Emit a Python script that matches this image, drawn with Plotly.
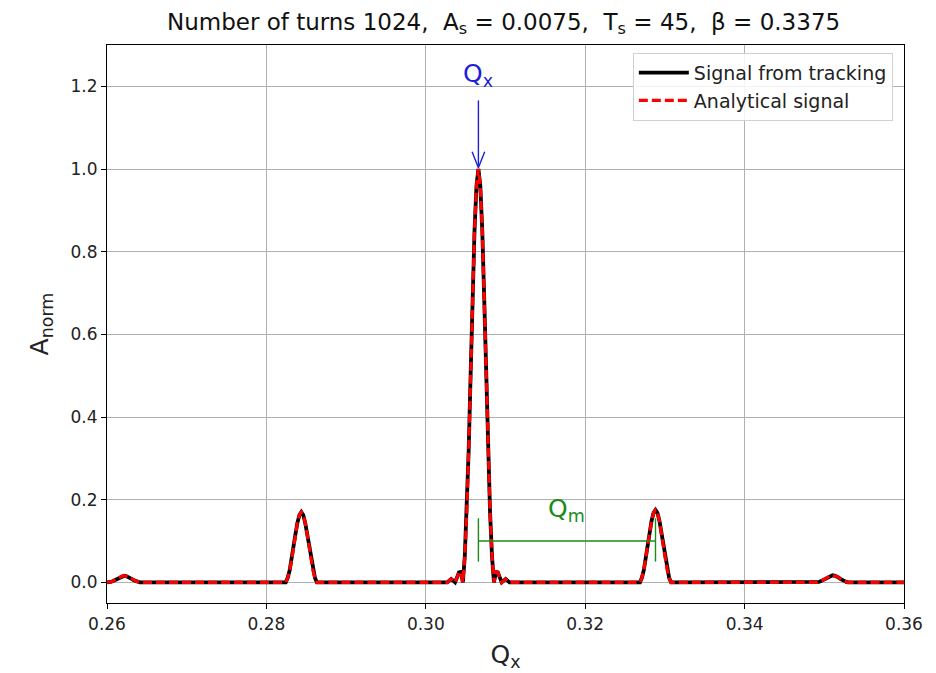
import plotly.graph_objects as go

# Spectrum sample points (tune Qx) and normalized amplitudes
q_x = [
    0.26000, 0.26021, 0.26045, 0.26070, 0.26094, 0.26118, 0.26143, 0.26167, 0.26192,
    0.26216, 0.26240, 0.26265, 0.26289, 0.26313, 0.26338, 0.26362, 0.26387, 0.26411,
    0.28243, 0.28267, 0.28292, 0.28316, 0.28340, 0.28365, 0.28389, 0.28414,
    0.28438, 0.28462, 0.28487, 0.28511, 0.28535, 0.28560, 0.28584, 0.28609, 0.28633,
    0.30270, 0.30294, 0.30318, 0.30343, 0.30367, 0.30392, 0.30416, 0.30440, 0.30465,
    0.30489, 0.30514, 0.30538, 0.30562, 0.30587, 0.30611, 0.30636,
    0.30660, 0.30684, 0.30709, 0.30733, 0.30758, 0.30782, 0.30806, 0.30831,
    0.30855, 0.30880, 0.30904, 0.30928, 0.30953, 0.30977, 0.31002, 0.31026, 0.31050,
    0.32687, 0.32711, 0.32736, 0.32760, 0.32784, 0.32809, 0.32833, 0.32858,
    0.32882, 0.32906, 0.32931, 0.32955, 0.32979, 0.33004, 0.33028, 0.33053, 0.33077,
    0.34909, 0.34933, 0.34958, 0.34982, 0.35006, 0.35031, 0.35055, 0.35080,
    0.35104, 0.35128, 0.35153, 0.35177, 0.35201, 0.35226, 0.35250, 0.35275, 0.35299,
    0.36000,
]

a_tracking = [
    0.000, 0.000, 0.001, 0.0027, 0.005, 0.008, 0.011, 0.0136, 0.0154,
    0.016, 0.0154, 0.0136, 0.011, 0.008, 0.005, 0.0027, 0.001, 0.000,
    0.000, 0.011, 0.029, 0.054, 0.085, 0.117, 0.144, 0.163,
    0.170, 0.163, 0.144, 0.117, 0.085, 0.054, 0.029, 0.011, 0.000,
    0.000, 0.004, 0.008, 0.004, 0.000, 0.012, 0.024, 0.025, 0.000,
    0.062, 0.170, 0.320, 0.500, 0.686, 0.849, 0.960,
    1.000, 0.960, 0.849, 0.686, 0.500, 0.320, 0.170, 0.062,
    0.000, 0.025, 0.024, 0.012, 0.000, 0.004, 0.008, 0.004, 0.000,
    0.000, 0.011, 0.030, 0.056, 0.0875, 0.120, 0.149, 0.168,
    0.175, 0.168, 0.149, 0.120, 0.0875, 0.056, 0.030, 0.011, 0.000,
    0.000, 0.001, 0.003, 0.0053, 0.0085, 0.0117, 0.0145, 0.0163,
    0.017, 0.0163, 0.0145, 0.0117, 0.0085, 0.0053, 0.003, 0.001, 0.000,
    0.000,
]

a_analytical = list(a_tracking)

# Annotation reference values
q_main = 0.3066
q_side = 0.32882
a_bracket = 0.10

x_ticks = [0.26, 0.28, 0.30, 0.32, 0.34, 0.36]
y_ticks = [0.0, 0.2, 0.4, 0.6, 0.8, 1.0, 1.2]

FONT = "DejaVu Sans"
GREEN = "#1a8c1a"
BLUE = "#1f1fd6"
TXT = "#222222"

fig = go.Figure()
fig.add_trace(go.Scatter(x=q_x, y=a_tracking, mode="lines", name="Signal from tracking",
                         line=dict(color="black", width=3.8)))
fig.add_trace(go.Scatter(x=q_x, y=a_analytical, mode="lines", name="Analytical signal",
                         line=dict(color="red", width=3.2, dash="9px,4px")))

shapes = [
    # Qx arrow
    dict(type="line", xref="x", yref="y", x0=q_main, x1=q_main, y0=1.166, y1=1.006,
         line=dict(color=BLUE, width=1.4)),
    dict(type="line", xref="x", yref="y", x0=q_main - 0.00079, x1=q_main, y0=1.042, y1=1.003,
         line=dict(color=BLUE, width=1.4)),
    dict(type="line", xref="x", yref="y", x0=q_main + 0.00079, x1=q_main, y0=1.042, y1=1.003,
         line=dict(color=BLUE, width=1.4)),
    # Qm bracket
    dict(type="line", xref="x", yref="y", x0=q_main, x1=q_side, y0=a_bracket, y1=a_bracket,
         line=dict(color=GREEN, width=1.4)),
    dict(type="line", xref="x", yref="y", x0=q_main, x1=q_main, y0=0.05, y1=0.155,
         line=dict(color=GREEN, width=1.4)),
    dict(type="line", xref="x", yref="y", x0=q_side, x1=q_side, y0=0.05, y1=0.155,
         line=dict(color=GREEN, width=1.4)),
]

annotations = [
    dict(x=q_main, y=1.228, xref="x", yref="y", text="Q<sub>x</sub>", showarrow=False,
         font=dict(family=FONT, size=25, color=BLUE)),
    dict(x=(q_main + q_side) / 2, y=0.174, xref="x", yref="y", text="Q<sub>m</sub>",
         showarrow=False, font=dict(family=FONT, size=25, color=GREEN)),
]

fig.update_layout(
    width=936, height=673,
    margin=dict(l=107, r=32, t=45, b=70),
    paper_bgcolor="white", plot_bgcolor="white",
    font=dict(family=FONT, size=17, color=TXT),
    title=dict(text="Number of turns 1024,  A<sub>s</sub> = 0.0075,  T<sub>s</sub> = 45,  β = 0.3375",
               x=0.538, xanchor="center", y=0.968, yanchor="middle",
               font=dict(family=FONT, size=23, color="#111111")),
    shapes=shapes,
    annotations=annotations,
    legend=dict(x=0.986, y=0.986, xanchor="right", yanchor="top",
                bgcolor="rgba(255,255,255,0.85)", bordercolor="#d0d0d0", borderwidth=1,
                font=dict(family=FONT, size=19, color=TXT),
                itemwidth=50),
    showlegend=True,
)

fig.update_xaxes(range=[0.26, 0.36], tickvals=x_ticks, ticktext=[f"{v:.2f}" for v in x_ticks],
                 showgrid=True, gridcolor="#b0b0b0", gridwidth=1,
                 showline=True, linecolor="black", linewidth=1.2, mirror=True,
                 ticks="outside", ticklen=5, tickcolor="black", zeroline=False,
                 tickfont=dict(family=FONT, size=17, color=TXT), automargin=False,
                 title=dict(text="Q<sub>x</sub>", font=dict(family=FONT, size=25, color=TXT),
                            standoff=12))
fig.update_yaxes(range=[-0.05, 1.3], tickvals=y_ticks, ticktext=[f"{v:.1f}" for v in y_ticks],
                 showgrid=True, gridcolor="#b0b0b0", gridwidth=1,
                 showline=True, linecolor="black", linewidth=1.2, mirror=True,
                 ticks="outside", ticklen=5, tickcolor="black", zeroline=False,
                 tickfont=dict(family=FONT, size=17, color=TXT), automargin=False,
                 title=dict(text="A<sub>norm</sub>", font=dict(family=FONT, size=25, color=TXT),
                            standoff=14))

fig.write_html("out.html")
